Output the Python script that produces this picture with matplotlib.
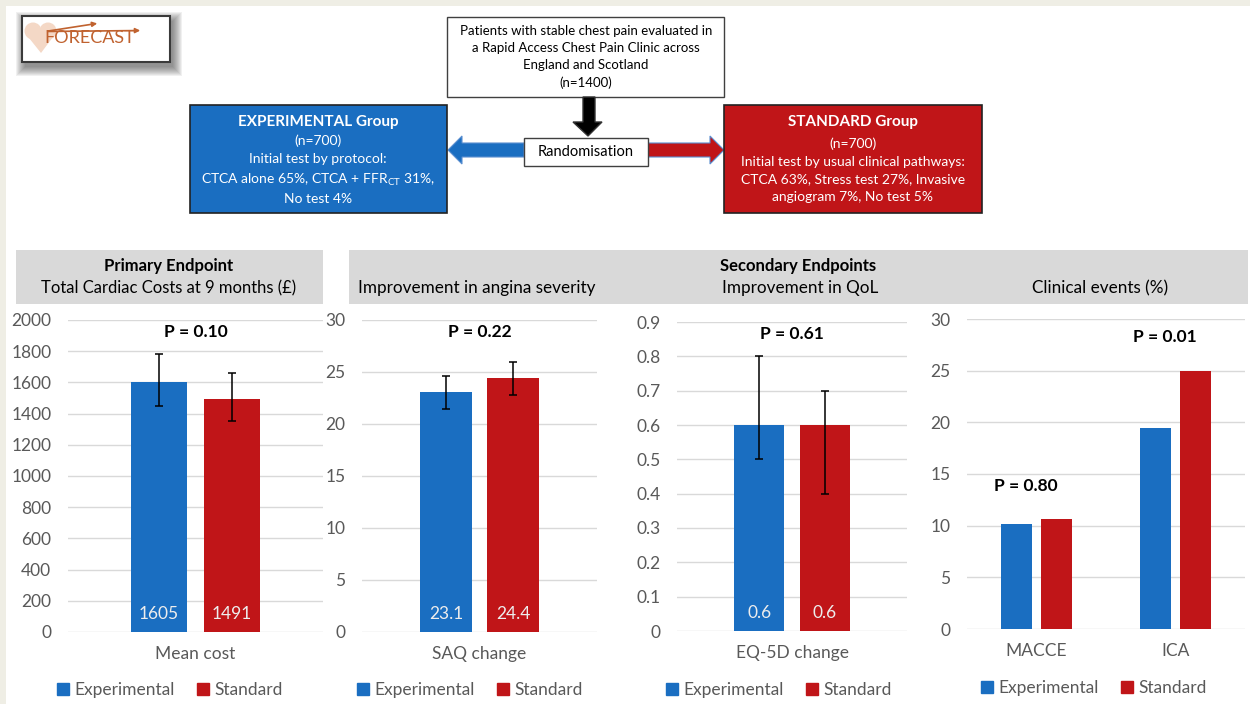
"""FORECAST trial summary: flow diagram plus primary and secondary endpoint bars."""

import matplotlib

matplotlib.use("Agg")
from matplotlib import pyplot as plt  # noqa: E402
from matplotlib.patches import Circle, Patch, Polygon, Rectangle  # noqa: E402

plt.rcParams["font.family"] = ["Lato", "DejaVu Sans"]
plt.rcParams["mathtext.fontset"] = "custom"
plt.rcParams["mathtext.rm"] = "Lato"
plt.rcParams["mathtext.bf"] = "Lato:bold"

W, H = 1250, 704
BLUE = "#1A6EC1"
RED = "#C01518"
GRID = "#D9D9D9"
TICK = "#595959"
HEART = "#F4D8C6"

SERIES = ["Experimental", "Standard"]

# primary endpoint: total cardiac costs (GBP)
cost_values = [1605, 1491]
cost_low = [1450, 1350]
cost_high = [1785, 1660]

# angina severity (SAQ change)
saq_values = [23.1, 24.4]
saq_low = [21.4, 22.8]
saq_high = [24.6, 26.0]

# quality of life (EQ-5D change)
eq5d_values = [0.6, 0.6]
eq5d_low = [0.5, 0.4]
eq5d_high = [0.8, 0.7]

# clinical events (%)
event_categories = ["MACCE", "ICA"]
event_experimental = [10.2, 19.5]
event_standard = [10.6, 25.0]
event_pvalues = ["P = 0.80", "P = 0.01"]


def px_axes(fig, left, top, right, bottom):
    return fig.add_axes(
        [left / W, 1 - bottom / H, (right - left) / W, (bottom - top) / H]
    )


def style_axis(ax, ymax, step, fmt):
    ax.set_facecolor("none")
    ax.set_ylim(0, ymax)
    ticks = [round(i * step, 6) for i in range(int(round(ymax / step)) + 1)]
    ax.set_yticks(ticks, labels=[fmt(t) for t in ticks])
    ax.grid(axis="y", color=GRID, linewidth=1)
    ax.set_axisbelow(True)
    for spine in ax.spines.values():
        spine.set_visible(False)
    ax.tick_params(axis="y", length=0, pad=12, labelsize=12.5, labelcolor=TICK)
    ax.tick_params(axis="x", length=0, pad=10, labelsize=12.5, labelcolor=TICK)


def single_bar_panel(ax, values, low, high, label, pvalue, value_fmt):
    offsets = [-0.143, 0.143]
    for off, val, lo, hi, color in zip(offsets, values, low, high, (BLUE, RED)):
        ax.bar(off, val, width=0.22, color=color, zorder=2)
        ax.errorbar(
            off, val, yerr=[[val - lo], [hi - val]], color="black",
            linewidth=1.1, capsize=3, capthick=1.1, zorder=3,
        )
        ax.annotate(
            value_fmt(val), xy=(off, 0), xytext=(0, 13), textcoords="offset points",
            ha="center", va="center", color="#EDEDED", fontsize=12.5, zorder=4,
        )
    ax.set_xlim(-0.5, 0.5)
    ax.set_xticks([0], labels=[label])
    ax.text(0, 0.96, pvalue, transform=ax.get_xaxis_transform(), ha="center",
            va="center", fontsize=12.5, fontweight="bold")


def add_legend(fig, cx, cy):
    handles = [Patch(color=BLUE), Patch(color=RED)]
    fig.legend(
        handles, SERIES, loc="center", bbox_to_anchor=(cx / W, 1 - cy / H),
        ncol=2, frameon=False, handlelength=0.7, handleheight=0.7,
        handletextpad=0.3, columnspacing=1.3, fontsize=12.5, labelcolor=TICK,
    )


fig = plt.figure(figsize=(12.5, 7.04), dpi=100, facecolor="#EFEEE5")
bg = fig.add_axes([0, 0, 1, 1])
bg.set_xlim(0, W)
bg.set_ylim(H, 0)
bg.axis("off")
bg.add_patch(Rectangle((6, 6), W, H, facecolor="white", edgecolor="none"))

# logo with soft shadow
for i in range(10):
    bg.add_patch(Rectangle((22 - i + 3, 16 - i + 5), 148 + 2 * i, 46 + 2 * i,
                           facecolor="#444444", edgecolor="none", alpha=0.08))
bg.add_patch(Rectangle((22, 16), 148, 46, facecolor="white",
                       edgecolor="#3A3A3A", linewidth=1.5))
bg.add_patch(Circle((33, 31), 8.5, facecolor=HEART, edgecolor="none"))
bg.add_patch(Circle((48, 31), 8.5, facecolor=HEART, edgecolor="none"))
bg.add_patch(Polygon([(25, 33), (56, 33), (41, 53)], facecolor=HEART,
                     edgecolor="none"))
bg.text(44, 38, "FORECAST", fontsize=13, color="#C0622F", ha="left", va="center")
bg.annotate("", xy=(100, 23), xytext=(45, 31.5),
            arrowprops=dict(arrowstyle="-|>", color="#C0622F", lw=1.2, mutation_scale=7))
bg.annotate("", xy=(143, 30.5), xytext=(45, 31.5),
            arrowprops=dict(arrowstyle="-|>", color="#C0622F", lw=1.2, mutation_scale=7))

# flow diagram
bg.add_patch(Rectangle((447, 17), 277, 80, facecolor="white",
                       edgecolor="#404040", linewidth=1))
bg.text(586, 57, "Patients with stable chest pain evaluated in\n"
        "a Rapid Access Chest Pain Clinic across\nEngland and Scotland\n(n=1400)",
        ha="center", va="center", fontsize=9.5, linespacing=1.5)
bg.add_patch(Polygon([(583, 97), (595, 97), (595, 122), (602, 122), (588, 136),
                      (573, 122), (583, 122)], facecolor="black", edgecolor="#333333"))
bg.add_patch(Polygon([(524, 143), (462, 143), (462, 136), (448, 150), (462, 164),
                      (462, 157), (524, 157)], facecolor=BLUE, edgecolor="#5B8FD0",
                     linewidth=0.8))
bg.add_patch(Polygon([(648, 143), (710, 143), (710, 136), (724, 150), (710, 164),
                      (710, 157), (648, 157)], facecolor=RED, edgecolor="#5B8FD0",
                     linewidth=0.8))
bg.add_patch(Rectangle((524, 138), 124, 28, facecolor="white",
                       edgecolor="#404040", linewidth=1))
bg.text(586, 152, "Randomisation", ha="center", va="center", fontsize=10.5)

bg.add_patch(Rectangle((190, 105), 257, 108, facecolor=BLUE,
                       edgecolor="#222222", linewidth=1.2))
bg.text(318, 122, "EXPERIMENTAL Group", ha="center", va="center", fontsize=11,
        fontweight="bold", color="white")
bg.text(318, 170, "(n=700)\nInitial test by protocol:\n"
        r"CTCA alone 65%, CTCA + FFR$_{\mathrm{CT}}$ 31%," "\nNo test 4%",
        ha="center", va="center", fontsize=10, color="white", linespacing=1.55)

bg.add_patch(Rectangle((724, 105), 258, 108, facecolor=RED,
                       edgecolor="#222222", linewidth=1.2))
bg.text(853, 122, "STANDARD Group", ha="center", va="center", fontsize=11,
        fontweight="bold", color="white")
bg.text(853, 170, "(n=700)\nInitial test by usual clinical pathways:\n"
        "CTCA 63%, Stress test 27%, Invasive\nangiogram 7%, No test 5%",
        ha="center", va="center", fontsize=10, color="white", linespacing=1.55)

# endpoint headers
bg.add_patch(Rectangle((16, 250), 307, 54, facecolor="#D9D9D9", edgecolor="none"))
bg.add_patch(Rectangle((349, 250), 899, 54, facecolor="#D9D9D9", edgecolor="none"))
bg.text(169, 266, "Primary Endpoint", ha="center", va="center", fontsize=12,
        fontweight="bold")
bg.text(169, 288, "Total Cardiac Costs at 9 months (\u00a3)", ha="center",
        va="center", fontsize=12)
bg.text(798, 266, "Secondary Endpoints", ha="center", va="center", fontsize=12,
        fontweight="bold")
bg.text(477, 288, "Improvement in angina severity", ha="center", va="center",
        fontsize=12.3)
bg.text(800, 288, "Improvement in QoL", ha="center", va="center", fontsize=12.3)
bg.text(1100, 288, "Clinical events (%)", ha="center", va="center", fontsize=12.3)

# panel 1: costs
ax1 = px_axes(fig, 68, 320, 323, 632)
style_axis(ax1, 2000, 200, lambda t: f"{t:.0f}")
single_bar_panel(ax1, cost_values, cost_low, cost_high, "Mean cost", "P = 0.10",
                 lambda v: f"{v:.0f}")
add_legend(fig, 170, 690)

# panel 2: SAQ
ax2 = px_axes(fig, 362, 320, 597, 632)
style_axis(ax2, 30, 5, lambda t: f"{t:.0f}")
single_bar_panel(ax2, saq_values, saq_low, saq_high, "SAQ change", "P = 0.22",
                 lambda v: f"{v:.1f}")
add_legend(fig, 470, 690)

# panel 3: EQ-5D
ax3 = px_axes(fig, 677, 322, 907, 631)
style_axis(ax3, 0.9, 0.1, lambda t: "0" if t == 0 else f"{t:.1f}")
single_bar_panel(ax3, eq5d_values, eq5d_low, eq5d_high, "EQ-5D change", "P = 0.61",
                 lambda v: f"{v:.1f}")
add_legend(fig, 779, 690)

# panel 4: clinical events
ax4 = px_axes(fig, 967, 319, 1245, 629)
style_axis(ax4, 30, 5, lambda t: f"{t:.0f}")
positions = list(range(len(event_categories)))
ax4.bar([p - 0.143 for p in positions], event_experimental, width=0.22,
        color=BLUE, zorder=2)
ax4.bar([p + 0.143 for p in positions], event_standard, width=0.22,
        color=RED, zorder=2)
ax4.set_xlim(-0.5, 1.5)
ax4.set_xticks(positions, labels=event_categories)
for p, exp, std, label in zip(positions, event_experimental, event_standard,
                              event_pvalues):
    ax4.annotate(label, xy=(p - 0.08, max(exp, std)), xytext=(0, 24),
                 textcoords="offset points", ha="center", va="center",
                 fontsize=12.5, fontweight="bold")
add_legend(fig, 1094, 688)

fig.savefig("out.png", dpi=100, facecolor=fig.get_facecolor())
